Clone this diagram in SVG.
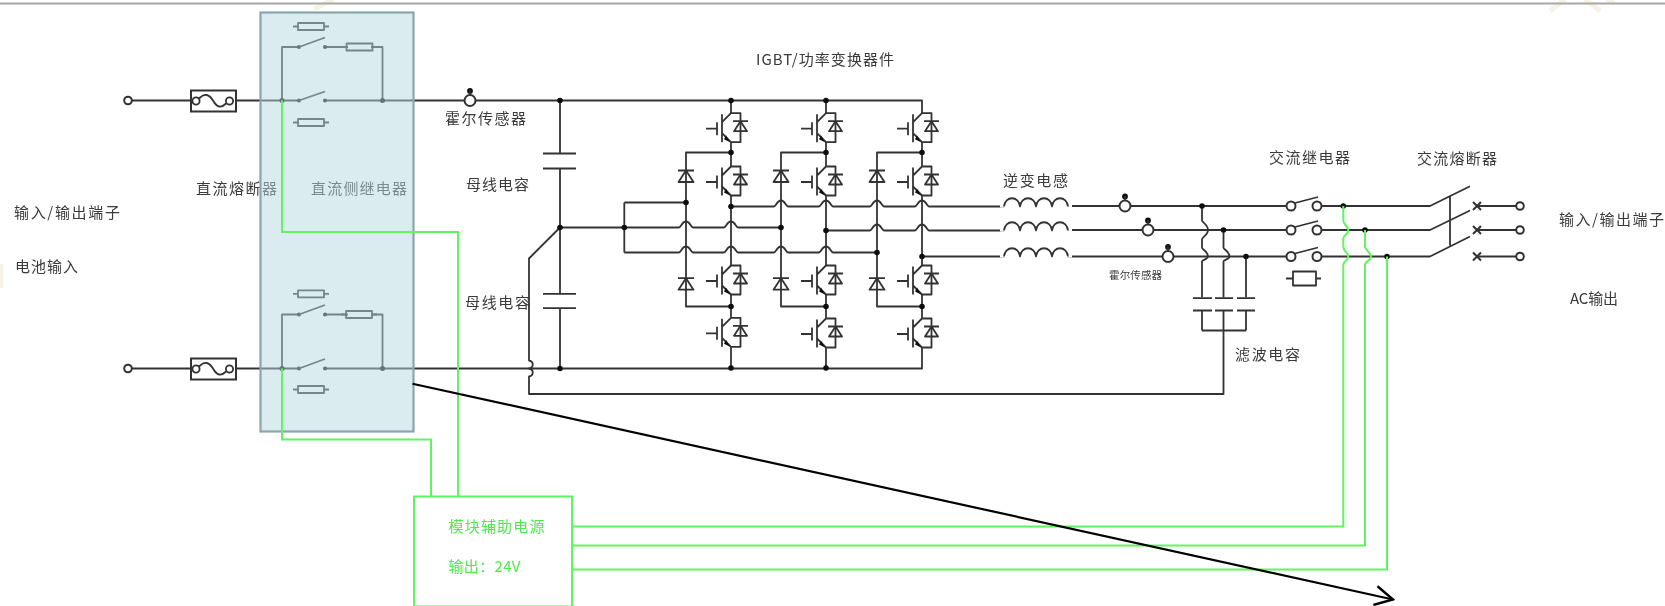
<svg xmlns="http://www.w3.org/2000/svg" width="1665" height="606" viewBox="0 0 1665 606">
<style>
.w{fill:none;stroke:#333;stroke-width:1.8;stroke-linejoin:round}
.w2{fill:none;stroke:#333;stroke-width:2}
.d{fill:#111;stroke:none}
.c{fill:#fff;stroke:#333;stroke-width:2}
.g{fill:none;stroke:#5ff55f;stroke-width:2}
.t{font-family:"Noto Sans CJK SC","Liberation Serif",serif;font-size:15px;fill:#3a3a3a}
.tg{font-family:"Noto Sans CJK SC","Liberation Serif",serif;font-size:15px;fill:#4fe84f}
.wm{fill:none;stroke:#f6f3e6;stroke-width:5}
</style>
<defs>
<filter id="soft" filterUnits="userSpaceOnUse" x="0" y="0" width="1665" height="606"><feGaussianBlur stdDeviation="0.6"/></filter>
<marker id="open" viewBox="-20 -12 22 24" refX="0" refY="0" markerWidth="22" markerHeight="24" markerUnits="userSpaceOnUse" orient="auto"><path d="M-18,-9.6L0,0L-18,9.6" fill="none" stroke="#000" stroke-width="2.4"/></marker>
<g id="igbt"><path class="w" d="M-25,15.500H-14M-14,9V22M-9,1V29M-9,9L0,0H9.500V29H0L-9,20"/><path class="d" d="M-1,29L-5,22L-7,26Z"/><path class="w" d="M2,8H17M9.500,8L3,18H16Z"/></g>
<g id="clamp"><path class="w" d="M-8,0H8M0,0L-7.500,11.500H7.500Z"/></g>
<g id="fuse"><rect class="w2" x="0" y="0" width="45" height="21" fill="none"/><circle class="w" cx="5" cy="10.500" r="3.600"/><circle class="w" cx="38.500" cy="10.500" r="3.600"/><path class="w" d="M8,8C14,2 18,4 22,10C26,17 30,18 35,13"/></g>
<g id="res"><path class="w" d="M-18,0H-13M13,0H18"/><rect class="w" x="-13" y="-3.500" width="26" height="7"/></g>
<g id="hall"><circle class="c" r="5.500" cx="0" cy="0"/><circle class="d" cx="0" cy="-9.500" r="2.900"/><path class="w" d="M0,-10V-5"/></g>
<g id="term"><circle class="c" r="3.800" cx="0" cy="0"/></g>
<g id="ind"><path class="w" d="M0,0C1,-11 15,-11 16,0C17,-11 31,-11 32,0C33,-11 47,-11 48,0C49,-11 63,-11 64,0"/></g>
<g id="acsw"><circle class="c" cx="0" cy="0" r="4.500"/><circle class="c" cx="26" cy="0" r="4.500"/><path class="w" d="M4,-3L27,-9"/></g>
<g id="xmark"><path class="w2" d="M-4,-4L4,4M-4,4L4,-4"/></g>
</defs>

<g filter="url(#soft)">
<g id="backdrop">
<path class="wm" d="M314,9L334,-1M1550,11L1565,-1M1585,-1L1600,11M1607,-1L1615,4M1,264L1,288"/>
<path d="M0,3.500H1665" fill="none" stroke="#a8a8a8" stroke-width="2"/>
</g>

<g transform="translate(0,0.500)">
<g id="connectors">
<!-- DC bus -->
<path class="w" d="M128,100H191M236,100H299M325,100H560H922V112.700"/>
<path class="w" d="M128,368H191M236,368H299M325,368H922V346.700"/>
<path class="w" d="M282,100V46.500H299M325,46.500H348M371,46.500H382.500V100"/>
<path class="w" d="M282,368V314H299M325,314H348M371,314H382.500V368"/>
<!-- bus capacitors -->
<path class="w" d="M560,100V153M560,168V293M560,308V368"/>
<path class="w" d="M560,227L529,258V360c5,1 5,7 0,8c5,1 5,7 0,8V393.500H1223.500V310M1202,330H1246M1202,310V330M1246,310V330"/>
<!-- IGBT legs -->
<path class="w" d="M731,100V112.700M731,141.700V166M731,195V265M731,294V317.300M731,346.700V367"/>
<path class="w" d="M826,100V112.700M826,141.700V166M826,195V265M826,294V318M826,347V367"/>
<path class="w" d="M922,141.700V166M922,195V265M922,294V318"/>
<!-- clamp legs -->
<path class="w" d="M731,152H686V306H731M826,152H781V306H826M922,152H877V306H922"/>
<!-- neutral and phases -->
<path class="w" d="M624.300,202V252M624.300,202H686M560,227H679c2,0 3,-6 7,-6c4,0 5,6 7,6H724c2,0 3,-6 7,-6c4,0 5,6 7,6H781"/>
<path class="w" d="M624.300,252H679c2,0 3,-6 7,-6c4,0 5,6 7,6H724c2,0 3,-6 7,-6c4,0 5,6 7,6H774c2,0 3,-6 7,-6c4,0 5,6 7,6H819c2,0 3,-6 7,-6c4,0 5,6 7,6H877"/>
<path class="w" d="M731,206H774c2,0 3,-6 7,-6c4,0 5,6 7,6H819c2,0 3,-6 7,-6c4,0 5,6 7,6H870c2,0 3,-6 7,-6c4,0 5,6 7,6H915c2,0 3,-6 7,-6c4,0 5,6 7,6H1004"/>
<path class="w" d="M826,230H870c2,0 3,-6 7,-6c4,0 5,6 7,6H915c2,0 3,-6 7,-6c4,0 5,6 7,6H1004"/>
<path class="w" d="M922,256H1004"/>
<!-- AC side -->
<path class="w" d="M1068,205.500H1287M1068,229.500H1287M1068,256H1287"/>
<path class="w" d="M1321,205.500H1430L1470,185.700M1321,229.500H1430L1470,210M1321,256H1430L1470,236M1450,195V245"/>
<path class="w" d="M1477,205.500H1520M1477,229.500H1520M1477,256H1520"/>
<path class="w" d="M1202,205.500V220c0,2 6,4 6,9.500c0,5 -6,7 -6,9.500V247c0,2 6,4 6,9c0,3 -6,3 -6,5V297M1223.500,229.500V247c0,2 6,4 6,9c0,3 -6,3 -6,5V297M1246,256V297"/>
<path class="w" d="M1193,297.700H1212M1215,297.700H1233M1237,297.700H1255M1193,310H1212M1215,310H1233M1237,310H1255"/>
<path class="w" d="M543,153H576M543,168H576M543,293.300H576M543,307.700H576"/>
<!-- junction dots -->
<g class="d">
<circle cx="282" cy="100" r="2.500"/><circle cx="382.500" cy="100" r="2.500"/><circle cx="299" cy="100" r="2"/><circle cx="325" cy="100" r="2"/><circle cx="299" cy="46.500" r="2"/><circle cx="325" cy="46.500" r="2"/>
<circle cx="282" cy="368" r="2.500"/><circle cx="382.500" cy="368" r="2.500"/><circle cx="299" cy="368" r="2"/><circle cx="325" cy="368" r="2"/><circle cx="299" cy="314" r="2"/><circle cx="325" cy="314" r="2"/>
<circle cx="560" cy="100" r="2.800"/><circle cx="560" cy="227" r="2.800"/><circle cx="560" cy="368" r="2.800"/><circle cx="624.300" cy="227" r="2.800"/>
<circle cx="731" cy="100" r="2.800"/><circle cx="826" cy="100" r="2.800"/>
<circle cx="731" cy="152" r="2.800"/><circle cx="826" cy="152" r="2.800"/><circle cx="922" cy="152" r="2.800"/>
<circle cx="686" cy="202" r="2.800"/><circle cx="781" cy="227" r="2.800"/><circle cx="877" cy="252" r="2.800"/>
<circle cx="731" cy="206" r="2.800"/><circle cx="826" cy="230" r="2.800"/><circle cx="922" cy="256" r="2.800"/>
<circle cx="731" cy="306" r="2.800"/><circle cx="826" cy="306" r="2.800"/><circle cx="922" cy="306" r="2.800"/>
<circle cx="731" cy="367.500" r="2.800"/><circle cx="826" cy="367.500" r="2.800"/>
<circle cx="1202" cy="205.500" r="2.800"/><circle cx="1223.500" cy="229.500" r="2.800"/><circle cx="1246" cy="256" r="2.800"/>
<circle cx="1343.300" cy="205.500" r="2.800"/><circle cx="1365" cy="229.500" r="2.800"/><circle cx="1387" cy="256" r="2.800"/>
</g>
</g>

<g id="terminal-dc-top"><use href="#term" x="128" y="100"/></g>
<g id="terminal-dc-bottom"><use href="#term" x="128" y="368"/></g>
<g id="fuse-dc-top"><use href="#fuse" x="191" y="90"/></g>
<g id="fuse-dc-bottom"><use href="#fuse" x="191" y="358"/></g>

<g id="relay-dc-top">
<use href="#res" x="311" y="26"/><use href="#res" x="311" y="122"/><use href="#res" x="359.500" y="46.500"/>
<path class="w" d="M299,100L325,91M299,46.500L325,37"/>
</g>
<g id="relay-dc-bottom">
<use href="#res" x="311" y="293.300"/><use href="#res" x="311" y="389"/><use href="#res" x="359" y="314"/>
<path class="w" d="M299,368L325,358.500M299,314L325,304.500"/>
</g>

<g id="hall-dc"><use href="#hall" x="470" y="100"/></g>
<g id="hall-a"><use href="#hall" x="1125" y="205.500"/></g>
<g id="hall-b"><use href="#hall" x="1148" y="229.500"/></g>
<g id="hall-c"><use href="#hall" x="1168" y="256"/></g>

<g id="igbt-a1"><use href="#igbt" x="731" y="112.700"/></g>
<g id="igbt-a2"><use href="#igbt" x="731" y="166"/></g>
<g id="igbt-a3"><use href="#igbt" x="731" y="265"/></g>
<g id="igbt-a4"><use href="#igbt" x="731" y="317.300"/></g>
<g id="igbt-b1"><use href="#igbt" x="826" y="112.700"/></g>
<g id="igbt-b2"><use href="#igbt" x="826" y="166"/></g>
<g id="igbt-b3"><use href="#igbt" x="826" y="265"/></g>
<g id="igbt-b4"><use href="#igbt" x="826" y="318"/></g>
<g id="igbt-c1"><use href="#igbt" x="922" y="112.700"/></g>
<g id="igbt-c2"><use href="#igbt" x="922" y="166"/></g>
<g id="igbt-c3"><use href="#igbt" x="922" y="265"/></g>
<g id="igbt-c4"><use href="#igbt" x="922" y="318"/></g>

<g id="clamp-diodes">
<use href="#clamp" x="686" y="170"/><use href="#clamp" x="781" y="170"/><use href="#clamp" x="877" y="170"/>
<use href="#clamp" x="686" y="277.700"/><use href="#clamp" x="781" y="277.700"/><use href="#clamp" x="877" y="277.700"/>
</g>

<g id="inductors">
<rect x="1000" y="195" width="72" height="12" fill="#fff"/><rect x="1000" y="219" width="72" height="12" fill="#fff"/><rect x="1000" y="245" width="72" height="12" fill="#fff"/>
<use href="#ind" x="1004" y="206"/><use href="#ind" x="1004" y="230"/><use href="#ind" x="1004" y="256"/>
</g>

<g id="relay-ac">
<use href="#acsw" x="1291" y="205.500"/><use href="#acsw" x="1291" y="229.500"/><use href="#acsw" x="1291" y="256"/>
<path class="w" d="M1286,278H1293M1316,278H1321"/><rect class="w" x="1293" y="271" width="23" height="14"/>
</g>

<g id="fuse-ac">
<use href="#xmark" x="1477" y="205.500"/><use href="#xmark" x="1477" y="229.500"/><use href="#xmark" x="1477" y="256"/>
<use href="#term" x="1520" y="205.500"/><use href="#term" x="1520" y="229.500"/><use href="#term" x="1520" y="256"/>
</g>

<g id="labels">
<text class="t" x="445" y="123" textLength="81">霍尔传感器</text>
<text class="t" x="196" y="193" textLength="81">直流熔断器</text>
<text class="t" x="311" y="193" textLength="96">直流侧继电器</text>
<text class="t" x="14" y="217" textLength="106">输入/输出端子</text>
<text class="t" x="15" y="271" textLength="63">电池输入</text>
<text class="t" x="466" y="189" textLength="63">母线电容</text>
<text class="t" x="465" y="307" textLength="65">母线电容</text>
<text class="t" x="756" y="64" textLength="138">IGBT/功率变换器件</text>
<text class="t" x="1003" y="185" textLength="65">逆变电感</text>
<text class="t" x="1109" y="278" textLength="53" style="font-size:10.500px">霍尔传感器</text>
<text class="t" x="1235" y="359" textLength="65">滤波电容</text>
<text class="t" x="1269" y="162" textLength="81">交流继电器</text>
<text class="t" x="1417" y="163" textLength="80">交流熔断器</text>
<text class="t" x="1559" y="224" textLength="105">输入/输出端子</text>
<text class="t" x="1570" y="303" textLength="48">AC输出</text>
</g>

<g id="dc-side-panel"><rect x="260.500" y="12" width="153" height="419" fill="#b7d9e1" fill-opacity="0.5" stroke="#8aa6ab" stroke-width="2.200"/></g>

<g id="aux-power">
<rect class="g" x="414" y="496" width="158" height="110"/>
<text class="tg" x="448.500" y="531" textLength="96">模块辅助电源</text>
<text class="tg" x="448.500" y="571" textLength="72">输出：24V</text>
</g>

<g id="control-wires">
<path class="g" d="M282,100V231.500H458V496"/>
<path class="g" d="M282,368V439H431V496"/>
<path class="g" d="M572,526H1343.300V264c0,-3 5,-4 5,-8c0,-4 -5,-5 -5,-10V238c0,-3 5,-4 5,-8c0,-4 -5,-6 -5,-10V205.500"/>
<path class="g" d="M572,545H1365V264c0,-3 6,-4 6,-8c0,-4 -6,-6 -6,-10V229.500"/>
<path class="g" d="M572,569H1387V256"/>
</g>
</g>
</g>

<g id="arrow"><path d="M412.500,383.700L1393,599.500" fill="none" stroke="#000" stroke-width="2.200" marker-end="url(#open)"/></g>
</svg>
